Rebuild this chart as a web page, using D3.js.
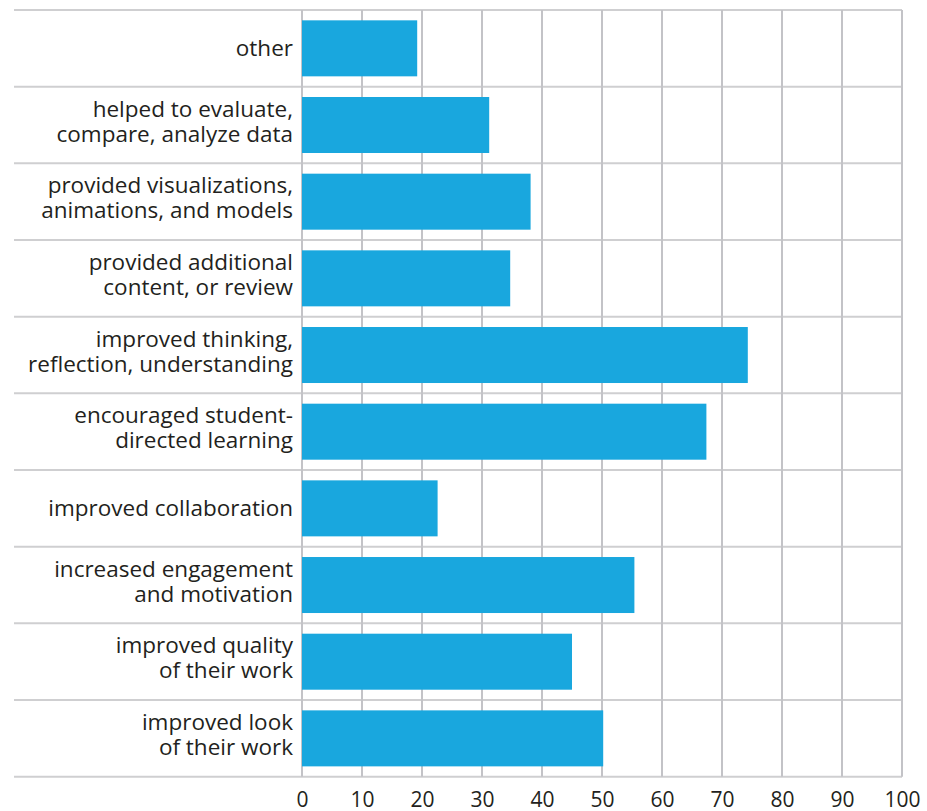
<!DOCTYPE html>
<html>
<head>
<meta charset="utf-8">
<script src="https://cdn.jsdelivr.net/npm/d3@7"></script>
<style>
  html, body { margin: 0; padding: 0; background: #fff; }
  svg { display: block; }
  text { font-family: "Open Sans", sans-serif; fill: #231f20; }
</style>
</head>
<body>
<svg id="chart" width="927" height="811"></svg>
<script>
// Categories top to bottom (each as lines of text)
const categories = [
  ["other"],
  ["helped to evaluate,", "compare, analyze data"],
  ["provided visualizations,", "animations, and models"],
  ["provided additional", "content, or review"],
  ["improved thinking,", "reflection, understanding"],
  ["encouraged student-", "directed learning"],
  ["improved collaboration"],
  ["increased engagement", "and motivation"],
  ["improved quality", "of their work"],
  ["improved look", "of their work"]
];
const values = [19.2, 31.2, 38.1, 34.7, 74.3, 67.4, 22.6, 55.4, 45.0, 50.2];
const tickValues = [0, 10, 20, 30, 40, 50, 60, 70, 80, 90, 100];

(function () {
const svg = d3.select("#chart");
const pLeft = 302, pRight = 902, pTop = 10, pBottom = 776.7;
const lineLeft = 14;

const x = d3.scaleLinear().domain([0, 100]).range([pLeft, pRight]);
const y = d3.scaleBand().domain(d3.range(categories.length)).range([pTop, pBottom]).paddingInner(0).paddingOuter(0);
const barH = 56;

// horizontal separators
const hLines = d3.range(categories.length + 1).map(i => pTop + i * y.step());
svg.append("g").selectAll("line").data(hLines).join("line")
  .attr("x1", lineLeft).attr("x2", pRight)
  .attr("y1", d => d).attr("y2", d => d)
  .attr("stroke", "#cfcfd1").attr("stroke-width", 2);

// vertical gridlines
svg.append("g").selectAll("line").data(tickValues).join("line")
  .attr("x1", d => x(d)).attr("x2", d => x(d))
  .attr("y1", pTop).attr("y2", pBottom)
  .attr("stroke", "#c3c3c7").attr("stroke-width", 2);

// bars
svg.append("g").selectAll("rect").data(values).join("rect")
  .attr("x", x(0))
  .attr("y", (d, i) => y(i) + (y.bandwidth() - barH) / 2)
  .attr("width", d => x(d) - x(0))
  .attr("height", barH)
  .attr("fill", "#19a7de");

// category labels
const lab = svg.append("g").selectAll("text").data(categories).join("text")
  .attr("text-anchor", "end")
  .attr("font-size", 22.5)
  .attr("transform", (d, i) => `translate(293, ${y(i) + y.bandwidth() / 2})`);
lab.each(function(lines) {
  const t = d3.select(this);
  if (lines.length === 1) {
    t.append("tspan").attr("x", 0).attr("y", 7.5).text(lines[0]);
  } else {
    t.append("tspan").attr("x", 0).attr("y", -8.3).text(lines[0]);
    t.append("tspan").attr("x", 0).attr("y", 16.7).text(lines[1]);
  }
});

// x axis
const axis = d3.axisBottom(x).tickValues(tickValues).tickSize(0).tickPadding(0);
const gx = svg.append("g").attr("transform", `translate(0, 807)`).call(axis);
gx.select(".domain").remove();
gx.selectAll("text")
  .attr("y", 0).attr("dy", 0)
  .style("font-family", '"Open Sans", sans-serif')
  .style("font-size", "21px")
  .attr("fill", "#231f20");
})();
</script>
</body>
</html>
